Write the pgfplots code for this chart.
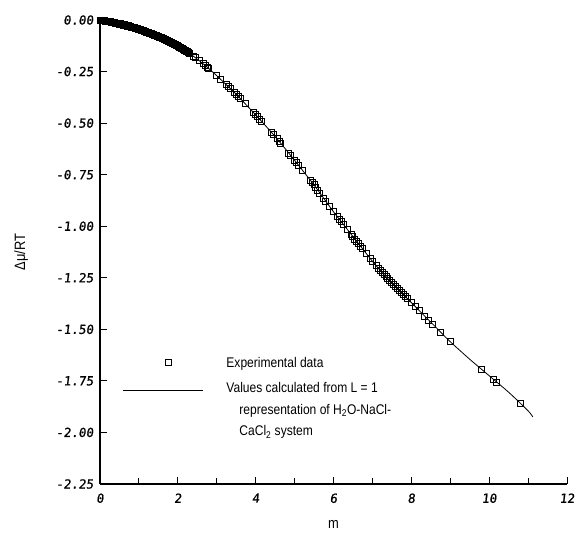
\documentclass[border=0pt]{standalone}
\usepackage{fontspec}
\setmainfont[FakeStretch=0.86]{Liberation Sans}
\newfontfamily\tickfont[FakeSlant=0.12,FakeBold=1]{DejaVu Sans Mono}
\usepackage{pgfplots}
\pgfplotsset{compat=1.18}
\pgfplotstableread{
m y
0.00 0.000
0.25 -0.009
0.50 -0.020
0.75 -0.032
1.00 -0.045
1.25 -0.062
1.50 -0.080
1.75 -0.102
2.00 -0.125
2.25 -0.155
2.50 -0.190
2.75 -0.228
3.00 -0.270
3.25 -0.315
3.50 -0.360
3.75 -0.410
4.00 -0.460
4.25 -0.512
4.50 -0.565
4.75 -0.622
5.00 -0.680
5.25 -0.740
5.50 -0.800
5.75 -0.865
6.00 -0.930
6.25 -0.990
6.50 -1.050
6.75 -1.110
7.00 -1.170
7.25 -1.225
7.50 -1.275
7.75 -1.323
8.00 -1.370
8.25 -1.418
8.50 -1.465
8.75 -1.513
9.00 -1.560
9.50 -1.645
10.00 -1.725
10.50 -1.805
11.00 -1.895
11.12 -1.925
}\calcline
\pgfplotstableread{
m y
0.02 -0.001
0.025 -0.001
0.05 -0.002
0.075 -0.002
0.08 -0.003
0.10 -0.004
0.125 -0.004
0.15 -0.005
0.175 -0.005
0.20 -0.007
0.225 -0.007
0.25 -0.009
0.275 -0.009
0.30 -0.011
0.325 -0.011
0.35 -0.013
0.375 -0.013
0.40 -0.016
0.425 -0.015
0.45 -0.018
0.475 -0.017
0.50 -0.020
0.525 -0.019
0.55 -0.022
0.575 -0.022
0.60 -0.025
0.625 -0.024
0.65 -0.027
0.675 -0.027
0.70 -0.030
0.725 -0.029
0.75 -0.032
0.775 -0.032
0.80 -0.035
0.825 -0.035
0.85 -0.037
0.875 -0.037
0.90 -0.040
0.925 -0.040
0.95 -0.042
0.975 -0.043
1.00 -0.045
1.025 -0.047
1.05 -0.048
1.075 -0.050
1.10 -0.052
1.125 -0.053
1.15 -0.055
1.175 -0.057
1.20 -0.059
1.225 -0.060
1.25 -0.062
1.275 -0.064
1.30 -0.066
1.325 -0.067
1.35 -0.069
1.375 -0.071
1.40 -0.073
1.425 -0.075
1.45 -0.076
1.475 -0.079
1.50 -0.080
1.525 -0.083
1.55 -0.084
1.575 -0.087
1.60 -0.089
1.625 -0.091
1.65 -0.093
1.675 -0.095
1.70 -0.098
1.725 -0.100
1.75 -0.102
1.775 -0.104
1.80 -0.107
1.825 -0.109
1.85 -0.111
1.875 -0.113
1.90 -0.116
1.925 -0.118
1.95 -0.120
1.975 -0.123
2.00 -0.125
2.025 -0.128
2.05 -0.131
2.075 -0.134
2.10 -0.137
2.125 -0.140
2.15 -0.143
2.175 -0.146
2.20 -0.149
2.225 -0.152
2.25 -0.155
2.275 -0.158
2.30 -0.162
2.40 -0.176
2.45 -0.183
2.55 -0.197
2.65 -0.213
2.70 -0.220
2.75 -0.228
2.80 -0.236
3.00 -0.270
3.10 -0.288
3.25 -0.315
3.30 -0.324
3.35 -0.333
3.45 -0.351
3.50 -0.360
3.55 -0.370
3.60 -0.380
3.73 -0.406
3.95 -0.450
4.00 -0.460
4.05 -0.470
4.10 -0.481
4.15 -0.491
4.40 -0.544
4.45 -0.554
4.55 -0.576
4.60 -0.588
4.65 -0.599
4.85 -0.645
4.90 -0.657
5.00 -0.680
5.05 -0.692
5.10 -0.704
5.20 -0.728
5.40 -0.776
5.45 -0.788
5.50 -0.800
5.55 -0.813
5.60 -0.826
5.65 -0.839
5.75 -0.865
5.80 -0.878
5.90 -0.904
6.00 -0.930
6.10 -0.954
6.15 -0.966
6.20 -0.978
6.25 -0.990
6.35 -1.014
6.45 -1.038
6.50 -1.050
6.55 -1.062
6.60 -1.074
6.65 -1.086
6.70 -1.098
6.75 -1.110
6.85 -1.134
6.95 -1.158
7.00 -1.170
7.10 -1.192
7.15 -1.203
7.20 -1.214
7.25 -1.225
7.30 -1.235
7.35 -1.245
7.40 -1.255
7.45 -1.265
7.50 -1.275
7.55 -1.285
7.60 -1.294
7.65 -1.304
7.70 -1.313
7.75 -1.323
7.80 -1.332
7.85 -1.342
7.90 -1.351
8.00 -1.370
8.10 -1.389
8.20 -1.408
8.35 -1.437
8.45 -1.456
8.55 -1.475
8.75 -1.513
9.00 -1.560
9.80 -1.695
10.10 -1.741
10.20 -1.757
10.80 -1.859
}\expdata
\begin{document}
\begin{tikzpicture}
\begin{axis}[
  width=467pt, height=464pt, scale only axis,
  xmin=0, xmax=12, ymin=-2.25, ymax=0,
  axis lines*=left,
  clip=false,
  tick align=inside,
  xtick={0,2,...,12},
  minor xtick={1,3,...,11},
  ytick={-2.25,-2,...,0},
  major tick length=7pt, minor tick length=6pt,
  every tick/.style={black, line width=0.9pt},
  axis line style={black, line width=1.1pt},
  /pgf/number format/assume math mode=true,
  y tick label style={/pgf/number format/fixed, /pgf/number format/fixed zerofill, /pgf/number format/precision=2, xshift=-3pt},
  tick label style={font=\tickfont\fontsize{12.5}{12.5}\selectfont},
  x tick label style={yshift=-6pt},
  xlabel={m}, ylabel={Δμ/RT},
  label style={font=\fontsize{15}{15}\selectfont},
  xlabel style={yshift=-11pt},
  ylabel style={yshift=21pt},
  reverse legend,
  legend cell align=left,
  legend style={draw=none, fill=none, at={(axis cs:0.5,-1.62)}, anchor=north west,
    font=\fontsize{14}{21.5}\selectfont, row sep=7pt, column sep=22pt,
    cells={anchor=base west},
    nodes={inner sep=1pt}},
]
\addplot[black, line width=0.8pt, smooth,
  legend image code/.code={\draw[black, line width=0.8pt] (0pt,3pt) -- (80pt,3pt);}]
  table[x=m, y=y] {\calcline};
\addlegendentry{\begin{tabular}[t]{@{}l@{}}Values calculated from L = 1\\\hspace{13pt}representation of H\textsubscript{2}O-NaCl-\\\hspace{13pt}CaCl\textsubscript{2} system\end{tabular}}
\addplot[only marks, mark=square, mark size=3pt, mark options={draw=black, line width=1pt},
  legend image code/.code={\draw[mark=square, mark size=3pt, mark options={draw=black, line width=1pt}] plot coordinates {(45pt,5pt)};}]
  table[x=m, y=y] {\expdata};
\addlegendentry{Experimental data}
\end{axis}
\path ([shift={(-100pt,-48pt)}]current axis.south west) rectangle ([shift={(20pt,20pt)}]current axis.north east);
\end{tikzpicture}
\end{document}
